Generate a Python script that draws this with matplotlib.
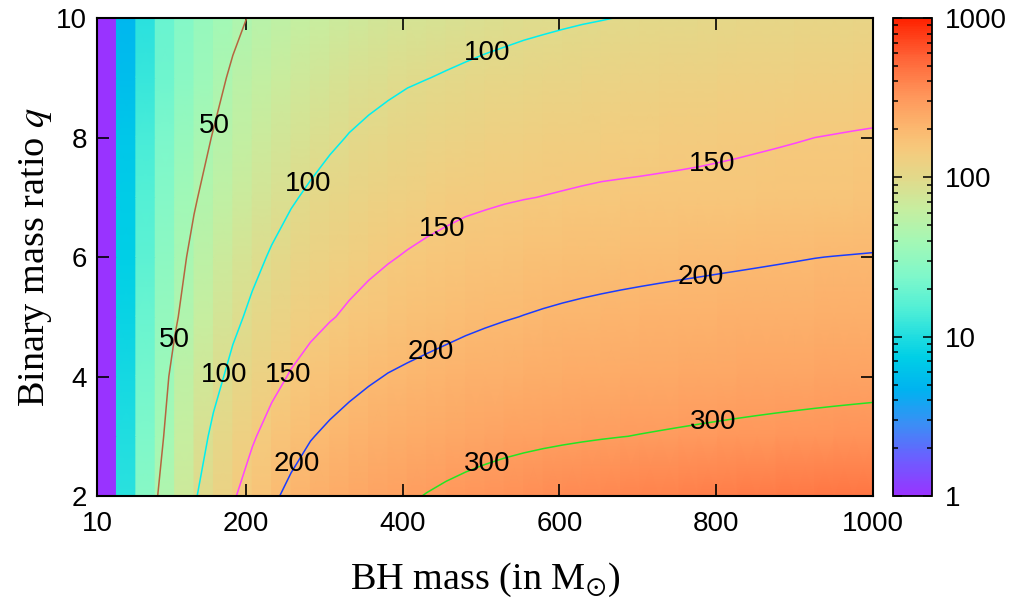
import numpy as np
import matplotlib
matplotlib.use("Agg")
import matplotlib.pyplot as plt
from matplotlib.colors import LogNorm, LinearSegmentedColormap
from matplotlib.ticker import FixedLocator, NullFormatter, FixedFormatter

# ---------------- data ----------------
bh_mass = [10, 34.75, 59.5, 84.25, 109, 133.75, 158.5, 183.25, 208, 232.75,
           257.5, 282.25, 307, 331.75, 356.5, 381.25, 406, 430.75, 455.5, 480.25,
           505, 529.75, 554.5, 579.25, 604, 628.75, 653.5, 678.25, 703, 727.75,
           752.5, 777.25, 802, 826.75, 851.5, 876.25, 901, 925.75, 950.5, 975.25,
           1000]
mass_ratio = [2, 3, 4, 5, 6, 7, 8, 9, 10]

v_q2 = [1, 11, 27, 47, 71, 96, 121, 146, 168, 191.5, 212, 228, 242, 255, 267, 279,
        291, 303, 314, 324.5, 334.5, 344, 353, 361.5, 370, 378, 386, 393.5, 401, 408,
        415, 422, 428.5, 435, 441, 447, 453, 458.5, 464, 469.5, 475]
v_q3 = [1, 10, 24, 40, 63, 84, 106, 126, 146, 164, 181, 197.5, 209, 219, 228, 236.5,
        244, 251, 257.5, 263.5, 269.3, 274.8, 279.6, 284, 288, 291.8, 295.4, 298.8, 302,
        305, 308, 311, 314, 317, 320, 323, 326, 329, 332, 335, 338]
v_q4 = [1, 9, 21.5, 36, 56, 74, 91, 108, 124, 139, 153, 165.5, 176.5, 186, 194.5, 202,
        207.5, 212.5, 217.2, 221.6, 225.7, 229.5, 233, 236.3, 239.4, 242.3, 245, 247.5,
        249.9, 252.2, 254.4, 256.5, 258.5, 260.4, 262.2, 263.9, 265.5, 267, 268.4, 269.7, 271]
v_q5 = [1, 8, 19, 32, 47, 63, 78, 93, 106, 118, 129, 138.5, 147.5, 155.5, 162.5, 169,
        174.8, 180, 185, 190, 194, 197.6, 200.8, 203.7, 206.3, 208.7, 210.9, 213, 215,
        216.9, 218.6, 220.2, 221.6, 222.9, 224.1, 225.3, 226.4, 227.4, 228.4, 229.4, 230.3]
v_q6 = [1, 7.5, 17, 29, 42, 55, 68, 80, 92, 103, 112.5, 121, 128.5, 135.5, 142, 147.5,
        152.5, 157, 161, 164.8, 168.3, 171.5, 174.3, 176.8, 179, 180.8, 182.5, 184, 185.4,
        186.8, 188.3, 189.8, 191.4, 193, 194.6, 196.2, 197.8, 199.4, 200.6, 201.7, 202.8]
v_q7 = [1, 7, 15.5, 26, 37.5, 48, 58.5, 68.5, 78, 88, 97, 104.5, 111, 117, 122.5, 127.5,
        132, 136, 139.6, 142.9, 145, 147.2, 149, 150.5, 152, 153.5, 154.9, 155.6, 156.2,
        156.8, 157.3, 157.8, 158.5, 159.2, 160, 160.8, 161.6, 162.4, 163.2, 164, 165]
v_q8 = [1, 6.5, 14, 23, 33, 42, 51, 60, 68, 75.5, 82.5, 88.5, 95.5, 101.2, 106, 110.5,
        114.5, 118, 121, 123.8, 126.3, 128.6, 130.6, 132.4, 133.9, 135.1, 136.2, 137.4,
        138.6, 139.9, 141.2, 142.5, 143.8, 145.1, 146.4, 147.6, 148.8, 150, 151.1, 152.2, 153.2]
v_q9 = [1, 5.5, 12, 20, 28, 36, 44, 53, 60, 66, 72, 77, 82, 86.5, 90, 93.5, 97, 99.5,
        102, 104.5, 107, 109, 111, 113, 115, 116.5, 118, 119.5, 121, 122.5, 123.5, 124.5,
        125.5, 126.5, 127.5, 128.5, 129.5, 130.5, 131.5, 132.5, 133.5]
v_q10 = [1, 5, 11, 19, 26, 33, 39, 45, 52, 57, 61, 65, 68.5, 72, 75, 78, 80.5, 83, 85.5,
         87.5, 89.5, 91.5, 93.5, 95, 96.5, 98, 99.2, 100.5, 101.5, 102.5, 103.5, 104.5,
         105.5, 106.5, 107.5, 108.5, 109.5, 110.5, 111.5, 112.5, 113.5]

contour_levels = [50, 100, 150, 200, 300]
x_ticks = [10, 200, 400, 600, 800, 1000]
y_ticks = [2, 4, 6, 8, 10]
cbar_ticks = [1, 10, 100, 1000]

# ---------------- styles ----------------
contour_colors = ["#b5653f", "#00f0f0", "#ff44ff", "#1a3cff", "#22e622"]
label_spots = [(157, 8.21), (106, 4.61),
               (508, 9.41), (277, 7.24), (171, 4.03),
               (794, 7.62), (452, 6.42), (254, 4.03),
               (780, 5.67), (433, 4.49), (263, 2.55),
               (797, 3.19), (508, 2.55)]
cmap_stops = [(0.000, "#9933ff"), (0.080, "#6a60ff"), (0.150, "#3a8ff5"),
              (0.220, "#00b2f0"), (0.290, "#00cfe6"), (0.333, "#20dde0"),
              (0.390, "#50efd6"), (0.460, "#7ff8ca"), (0.530, "#a2f8b6"),
              (0.600, "#c6eea0"), (0.667, "#e2d98a"), (0.727, "#f6c97c"),
              (0.767, "#fbb970"), (0.840, "#ff955a"), (0.920, "#ff6236"),
              (1.000, "#ff2200")]
cmap = LinearSegmentedColormap.from_list("gp", cmap_stops)
norm = LogNorm(vmin=1, vmax=1000)

plt.rcParams["mathtext.fontset"] = "stix"
tick_font = "Liberation Sans"
label_font = "Liberation Serif"

M = np.array(bh_mass, dtype=float)
Q = np.array(mass_ratio, dtype=float)
V = np.array([v_q2, v_q3, v_q4, v_q5, v_q6, v_q7, v_q8, v_q9, v_q10], dtype=float)

fig = plt.figure(figsize=(10.13, 6.02), dpi=100)
ax = fig.add_axes([0.0958, 0.176, 0.7660, 0.794])
cax = fig.add_axes([0.8815, 0.176, 0.0385, 0.794])

# column cells coloured by their left node, smooth along q
Xg = np.repeat(M, 2)[1:-1]
Cg = np.repeat(V[:, :-1], 2, axis=1)
mesh = ax.pcolormesh(Xg, Q, Cg, shading="gouraud", cmap=cmap, norm=norm,
                     rasterized=True)

cs = ax.contour(M, Q, V, levels=contour_levels, colors=contour_colors,
                linewidths=1.1)
ax.clabel(cs, inline=False, fontsize=20, colors="black",
          manual=label_spots, fmt="%d")
for t in cs.labelTexts:
    t.set_rotation(0)
    t.set_fontfamily(tick_font)

ax.set_xlim(10, 1000)
ax.set_ylim(2, 10)
ax.set_xticks(x_ticks)
ax.set_yticks(y_ticks)
ax.tick_params(which="both", direction="in", top=True, right=True,
               length=8.5, width=1.2, labelsize=20)
ax.tick_params(axis="x", pad=11)
ax.tick_params(axis="y", pad=7)
for lab in ax.get_xticklabels() + ax.get_yticklabels():
    lab.set_fontfamily(tick_font)
for sp in ax.spines.values():
    sp.set_linewidth(1.5)

ax.set_xlabel(r"BH mass (in M$_{\odot}$)", fontsize=27.5, family=label_font,
              labelpad=17)
ax.set_ylabel(r"Binary mass ratio $q$", fontsize=27.5, family=label_font,
              labelpad=2)

cb = fig.colorbar(mesh, cax=cax)
cb.outline.set_linewidth(1.3)
cax.yaxis.set_major_locator(FixedLocator(cbar_ticks))
cax.yaxis.set_major_formatter(FixedFormatter([str(v) for v in cbar_ticks]))
minors = [m * d for d in (1, 10, 100) for m in range(2, 10)]
cax.yaxis.set_minor_locator(FixedLocator(minors))
cax.yaxis.set_minor_formatter(NullFormatter())
cax.tick_params(which="both", direction="in", left=True, right=True,
                labelleft=False, labelright=True, labelsize=20, width=1.1, pad=9)
cax.tick_params(which="major", length=6.5)
cax.tick_params(which="minor", length=3.5)
for lab in cax.get_yticklabels():
    lab.set_fontfamily(tick_font)

fig.savefig("out.png", dpi=100)
